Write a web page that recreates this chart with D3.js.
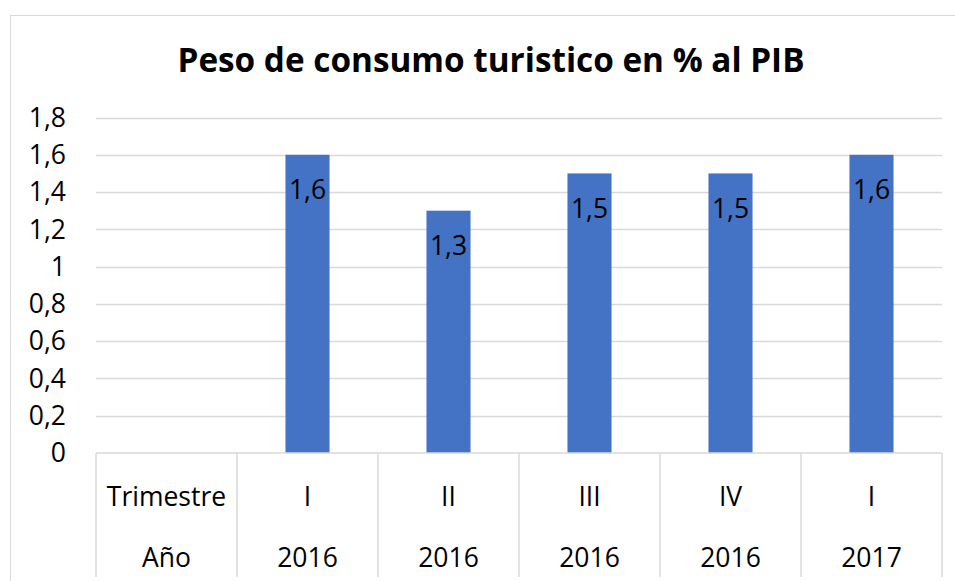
<!DOCTYPE html>
<html>
<head>
<meta charset="utf-8">
<script src="https://cdn.jsdelivr.net/npm/d3@7"></script>
<style>
  html, body { margin: 0; padding: 0; background: #fff; }
  svg { display: block; font-family: "Open Sans", "Noto Sans", sans-serif; }
</style>
</head>
<body>
<svg id="chart" width="955" height="581"></svg>
<script>
// data
const trimestres = ['Trimestre', 'I', 'II', 'III', 'IV', 'I'];
const anios = ['Año', '2016', '2016', '2016', '2016', '2017'];
const valores = [null, 1.6, 1.3, 1.5, 1.5, 1.6];
const yTicks = [0, 0.2, 0.4, 0.6, 0.8, 1, 1.2, 1.4, 1.6, 1.8];

const svg = d3.select('#chart');
const margin = {left: 96, right: 13, top: 117.5, bottom: 128};
const W = 955, H = 581;
const FS = 26.5;

const fmt = v => String(+v.toFixed(1)).replace('.', ',');

// chart border
svg.append('rect')
    .attr('x', 10.5).attr('y', 15.5)
    .attr('width', W).attr('height', H)
    .attr('fill', 'none').attr('stroke', '#d9d9d9');

const x = d3.scaleBand()
    .domain(d3.range(trimestres.length))
    .range([margin.left, W - margin.right]);

const y = d3.scaleLinear()
    .domain([0, 1.8])
    .range([453, margin.top]);

// gridlines
svg.append('g').selectAll('line')
    .data(yTicks.slice(1))
    .join('line')
    .attr('x1', margin.left).attr('x2', W - margin.right)
    .attr('y1', d => Math.round(y(d)) + 0.5).attr('y2', d => Math.round(y(d)) + 0.5)
    .attr('stroke', '#d9d9d9').attr('stroke-width', 1.3);

// y tick labels
svg.append('g').selectAll('text')
    .data(yTicks)
    .join('text')
    .attr('x', 66).attr('y', d => y(d))
    .attr('dy', '0.35em')
    .attr('text-anchor', 'end')
    .attr('font-size', FS)
    .attr('fill', '#000')
    .text(fmt);

// bars
const barW = x.bandwidth() / 3.2;
const bars = valores.map((v, i) => ({v, i})).filter(d => d.v != null);
svg.append('g').selectAll('rect')
    .data(bars)
    .join('rect')
    .attr('x', d => x(d.i) + (x.bandwidth() - barW) / 2)
    .attr('width', barW)
    .attr('y', d => y(d.v))
    .attr('height', d => y(0) - y(d.v))
    .attr('fill', '#4472c4');

// data labels, inside end
svg.append('g').selectAll('text')
    .data(bars)
    .join('text')
    .attr('x', d => x(d.i) + x.bandwidth() / 2)
    .attr('y', d => y(d.v) + 35)
    .attr('dy', '0.35em')
    .attr('text-anchor', 'middle')
    .attr('font-size', FS)
    .attr('fill', '#000')
    .text(d => fmt(d.v));

// category table: axis line + separators
const axis = svg.append('g').attr('stroke', '#d9d9d9').attr('stroke-width', 1.5);
axis.append('line')
    .attr('x1', margin.left).attr('x2', W - margin.right)
    .attr('y1', y(0)).attr('y2', y(0));
const seps = d3.range(trimestres.length + 1).map(i => i < trimestres.length ? x(i) : W - margin.right);
axis.selectAll('line.sep')
    .data(seps)
    .join('line')
    .attr('class', 'sep')
    .attr('x1', d => d).attr('x2', d => d)
    .attr('y1', y(0)).attr('y2', 577);

const cats = svg.append('g')
    .attr('text-anchor', 'middle')
    .attr('font-size', FS)
    .attr('fill', '#000');
cats.selectAll('text.tri')
    .data(trimestres)
    .join('text')
    .attr('class', 'tri')
    .attr('x', (d, i) => x(i) + x.bandwidth() / 2)
    .attr('y', 497).attr('dy', '0.35em')
    .text(d => d);
cats.selectAll('text.anio')
    .data(anios)
    .join('text')
    .attr('class', 'anio')
    .attr('x', (d, i) => x(i) + x.bandwidth() / 2)
    .attr('y', 558).attr('dy', '0.35em')
    .text(d => d);

// title
svg.append('text')
    .attr('x', 491).attr('y', 60)
    .attr('dy', '0.35em')
    .attr('text-anchor', 'middle')
    .attr('font-size', 33.3)
    .attr('font-weight', 'bold')
    .attr('fill', '#000')
    .text('Peso de consumo turistico en % al PIB');
</script>
</body>
</html>
